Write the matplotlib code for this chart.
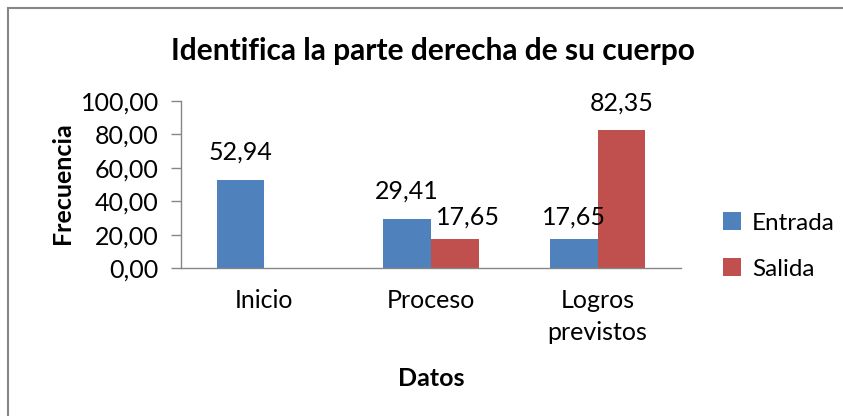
import matplotlib.pyplot as plt
import matplotlib.patches as mpatches
import numpy as np

# data
categorias = ["Inicio", "Proceso", "Logros\nprevistos"]
entrada = [52.94, 29.41, 17.65]
salida = [None, 17.65, 82.35]
yticks = [0, 20, 40, 60, 80, 100]

azul = "#4f81bd"
rojo = "#c0504d"
plt.rcParams["font.family"] = ["Lato", "DejaVu Sans"]
fs = 18

W, H = 843, 416
fig = plt.figure(figsize=(W / 100, H / 100), dpi=100)

# outer frame: only top and left edges show, the rest is cut off
fig.patches.append(mpatches.Rectangle((8 / W, -20 / H), 900 / W, (H - 8 + 20) / H, transform=fig.transFigure,
                                      fill=False, edgecolor="#868686", linewidth=1.5))

ax = fig.add_axes([181 / W, (H - 268) / H, 500 / W, 167 / H])

x = np.arange(len(categorias))
bw = 1 / 3.5

ent = ax.bar(x - bw / 2, entrada, bw, color=azul)
sal_vals = [v if v is not None else 0 for v in salida]
sal = ax.bar(x + bw / 2, sal_vals, bw, color=rojo)

fmt = lambda v: f"{v:.2f}".replace(".", ",")


def etiqueta(xc, v, dx=0):
    # the small labels sit a bit closer to their bars in the original
    dy = 14 if v < 20 else 20
    ax.annotate(fmt(v), (xc, v), xytext=(dx, dy), textcoords="offset pixels",
                ha="center", va="baseline", fontsize=fs)


for xi, v in zip(x, entrada):
    etiqueta(xi - bw / 2, v)
for i, (xi, v) in enumerate(zip(x, salida)):
    if v is not None:
        etiqueta(xi + bw / 2, v, dx=13 if i == 1 else 0)

ax.set_xlim(-0.5, 2.5)
ax.set_ylim(0, 100)
ax.set_yticks(yticks)
ax.set_yticklabels([fmt(t) for t in yticks], fontsize=fs)
ax.set_xticks(x)
ax.set_xticklabels(categorias, fontsize=fs, linespacing=1.5, va="top")
ax.tick_params(axis="x", length=0, pad=15)
ax.tick_params(axis="y", length=7, width=1, color="#868686", pad=9)

for s in ["top", "right"]:
    ax.spines[s].set_visible(False)
for s in ["left", "bottom"]:
    ax.spines[s].set_color("#868686")
    ax.spines[s].set_linewidth(1)

fig.text(62 / W, 1 - 183 / H, "Frecuencia", ha="center", va="center", rotation=90, fontsize=fs, fontweight="bold")
fig.text(431 / W, 1 - 378 / H, "Datos", ha="center", va="center", fontsize=fs, fontweight="bold")
fig.text(433 / W, 1 - 51 / H, "Identifica la parte derecha de su cuerpo", ha="center", va="center",
         fontsize=21.5, fontweight="bold")

leg = fig.legend([ent, sal], ["Entrada", "Salida"], loc="center left", bbox_to_anchor=(723 / W, 1 - 246 / H),
                 frameon=False, fontsize=17.5, handlelength=0.75, handleheight=0.75, handletextpad=0.45,
                 labelspacing=1.0, borderpad=0, borderaxespad=0)

fig.savefig("out.png", dpi=100)
